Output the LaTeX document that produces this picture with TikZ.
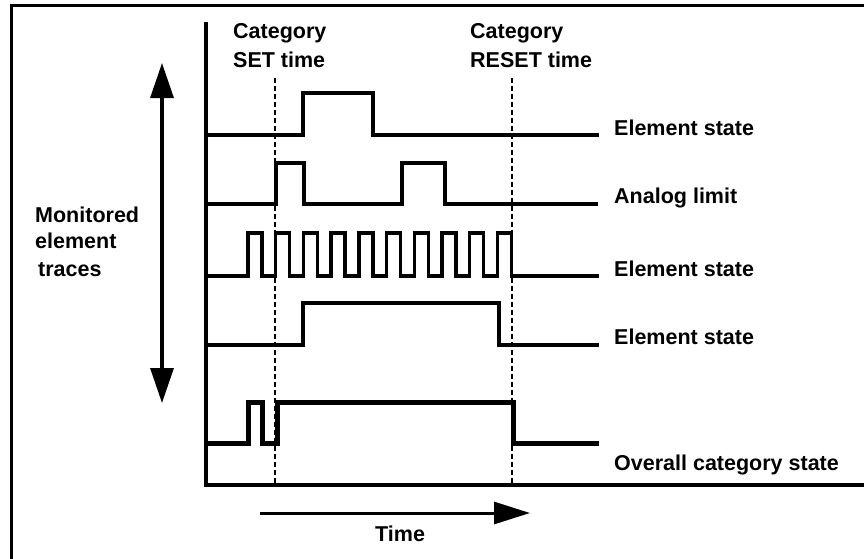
\documentclass[tikz,border=0pt]{standalone}
\usepackage{fontspec}
\setmainfont{Liberation Sans}
\usetikzlibrary{arrows.meta}
\tikzset{
  lbl/.style={anchor=base west, inner sep=0pt, font=\fontsize{21.5}{26}\selectfont\bfseries},
  trace/.style={line width=3.4pt, line join=miter},
  overall/.style={line width=5pt, line join=miter},
  axis/.style={line width=3.4pt},
  marker/.style={line width=2.2pt, dash pattern=on 5pt off 3pt},
  frame/.style={line width=3pt},
  bigarrow/.style={line width=3pt, -{Triangle[length=36pt,width=22pt]}},
  bigarrows/.style={line width=3.2pt, {Triangle[length=35pt,width=23pt]}-{Triangle[length=35pt,width=23pt]}}
}
\begin{document}
\begin{tikzpicture}[x=1pt,y=-1pt]
\useasboundingbox (0,0) rectangle (864,558);
% frame
\coordinate (fbl) at (11,560);
\coordinate (ftl) at (11,5);
\coordinate (ftr) at (866,5);
\draw[frame] (fbl) -- (ftl) -- (ftr);
% axes
\coordinate (ytop) at (206,22);
\coordinate (org) at (206,485);
\coordinate (xend) at (866,485);
\draw[axis] (ytop) -- (org) -- (xend);
% set / reset markers
\coordinate (settop) at (275,78);
\coordinate (setbot) at (275,484);
\coordinate (restop) at (512,78);
\coordinate (resbot) at (512,484);
\draw[marker] (settop) -- (setbot);
\draw[marker] (restop) -- (resbot);
% labels at top
\node[lbl] (c1a) at (233,38) {Category};
\node[lbl] (c1b) at (233,67) {SET time};
\node[lbl] (c2a) at (470,38) {Category};
\node[lbl] (c2b) at (470,67) {RESET time};
% trace 1: element state
\coordinate (t1s) at (206,135);
\coordinate (t1e) at (599,135);
\draw[trace] (t1s) -- (303,135) -- (303,93) -- (373,93) -- (373,135) -- (t1e);
\node[lbl] (l1) at (614,135) {Element state};
% trace 2: analog limit
\coordinate (t2s) at (206,204);
\coordinate (t2e) at (598,204);
\draw[trace] (t2s) -- (276,204) -- (276,163) -- (304,163) -- (304,204) -- (402,204) -- (402,163) -- (445,163) -- (445,204) -- (t2e);
\node[lbl] (l2) at (614,203) {Analog limit};
% trace 3: pulse train
\coordinate (t3s) at (206,276);
\coordinate (t3e) at (599,276);
\draw[trace] (t3s)
  \foreach \i in {0,...,9} {
    -- ({248+27.7*\i},276) -- ({248+27.7*\i},233) -- ({262+27.7*\i},233) -- ({262+27.7*\i},276)
  } -- (t3e);
\node[lbl] (l3) at (614,276) {Element state};
% trace 4: element state
\coordinate (t4s) at (206,345);
\coordinate (t4e) at (599,345);
\draw[trace] (t4s) -- (303,345) -- (303,303) -- (499,303) -- (499,345) -- (t4e);
\node[lbl] (l4) at (614,344) {Element state};
% trace 5: overall category state
\coordinate (t5s) at (206,443);
\coordinate (t5e) at (599,443);
\draw[overall] (t5s) -- (248,443) -- (248,402) -- (262,402) -- (262,443) -- (277,443) -- (277,402) -- (513,402) -- (513,443) -- (t5e);
\node[lbl] (l5) at (614,470) {Overall category state};
% vertical double arrow
\coordinate (va) at (162,63);
\coordinate (vb) at (162,403);
\draw[bigarrows] (va) -- (vb);
\node[lbl] (m1) at (35,222) {Monitored};
\node[lbl] (m2) at (35,248) {element};
\node[lbl] (m3) at (38,276) {traces};
% time arrow
\coordinate (ta) at (260,513);
\coordinate (tb) at (530,513);
\draw[bigarrow] (ta) -- (tb);
\node[lbl] (tl) at (375,541) {Time};
\end{tikzpicture}
\end{document}
